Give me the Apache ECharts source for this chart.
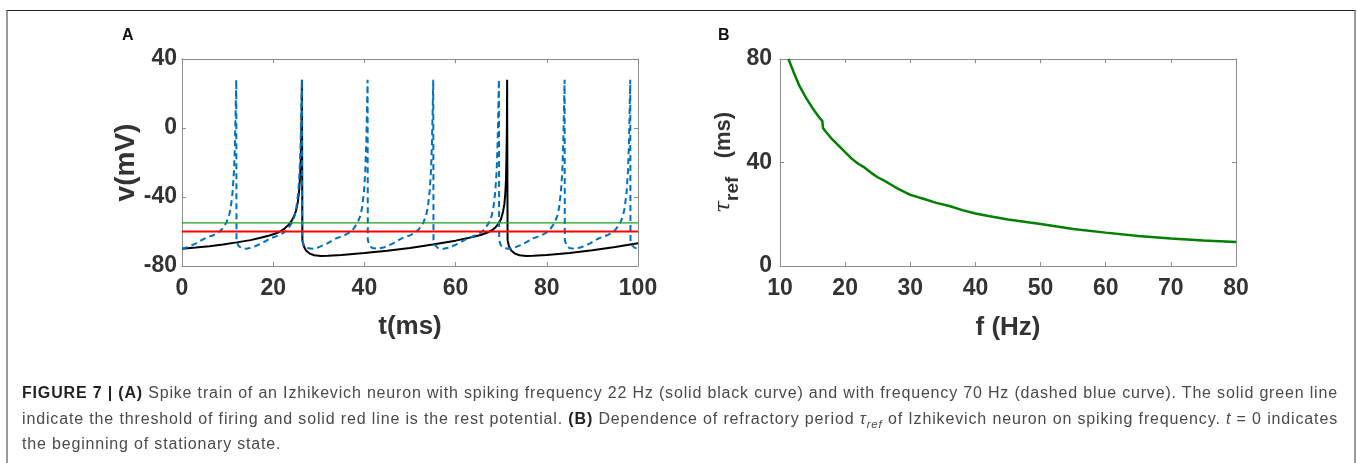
<!DOCTYPE html>
<html>
<head>
<meta charset="utf-8">
<script src="https://cdn.jsdelivr.net/npm/echarts@6/dist/echarts.min.js"></script>
<style>
    html, body { margin: 0; padding: 0; background: #fff; }
    #wrap { position: relative; width: 1357px; height: 463px; overflow: hidden; }
    #chart { position: absolute; left: 0; top: 0; width: 1357px; height: 463px; }
    #frame {
        position: absolute; left: 6px; top: 10px; width: 1346px; height: 460px;
        border-top: 1px solid #231f20; border-left: 2px solid #9b9b9b; border-right: 2px solid #9b9b9b;
        pointer-events: none;
    }
    #caption {
        position: absolute; left: 22px; top: 380px; width: 1316px;
        font-family: 'Liberation Sans', Arial, sans-serif; font-size: 16px; line-height: 25.5px;
        color: #4a4a4a;
    }
    #caption .ln { white-space: nowrap; height: 25.5px; }
    #caption .ln span.fit { display: inline-block; white-space: nowrap; }
    #caption b { color: #231f20; }
    #caption .sub { font-size: 11.5px; position: relative; top: 4px; line-height: 0; }
</style>
</head>
<body>
<div id="wrap">
    <div id="chart"></div>
    <div id="frame"></div>
    <div id="caption">
        <div class="ln"><span class="fit"><b>FIGURE 7 | (A)</b> Spike train of an Izhikevich neuron with spiking frequency 22 Hz (solid black curve) and with frequency 70 Hz (dashed blue curve). The solid green line</span></div>
        <div class="ln"><span class="fit">indicate the threshold of firing and solid red line is the rest potential. <b>(B)</b> Dependence of refractory period <i>&tau;<span class="sub">ref</span></i> of Izhikevich neuron on spiking frequency. <i>t</i> = 0 indicates</span></div>
        <div class="ln" id="lastLine">the beginning of stationary state.</div>
    </div>
</div>
<script>
// ---- panel A: membrane potential, 22 Hz neuron (solid black) ----
const slowTrain = [
    [0, -70], [3, -69.3], [6, -68.5], [9, -67.5], [12, -66.3], [15, -65], [17, -63.8], [19, -62.5],
    [20.5, -61.2], [21.5, -60], [22.5, -58.3], [23.3, -56.3], [24, -54], [24.5, -51.5], [25, -48],
    [25.4, -43], [25.7, -36], [25.9, -28], [26.05, -18], [26.15, -5], [26.25, 12], [26.3, 28],
    [26.4, -65], [26.7, -68.5], [27.2, -71], [28, -72.8], [29, -73.8], [30.5, -74.2], [32, -74.1],
    [35, -73.6], [40, -72.5], [45, -71.2], [50, -69.6], [55, -67.6], [60, -65.3], [63, -63.6],
    [65.5, -62], [67, -60.6], [68, -59.2], [68.8, -57.5], [69.5, -55.2], [70, -52.5], [70.4, -48.5],
    [70.7, -44], [70.9, -38], [71.05, -30], [71.15, -18], [71.25, 0], [71.3, 28],
    [71.4, -65], [71.7, -68.5], [72.2, -71], [73, -72.8], [74, -73.8], [75.5, -74.2], [77, -74.1],
    [80, -73.6], [85, -72.4], [90, -70.9], [95, -69], [100, -66.8]
];

// ---- panel A: 70 Hz neuron (dashed blue) ----
const fastTrain = [
    [0, -70], [1, -69.3], [3, -67], [5, -64], [7, -62], [8, -60.5], [8.8, -58.5], [9.7, -55],
    [10.3, -51], [10.7, -46], [11.1, -37], [11.4, -25], [11.6, -10], [11.75, 8], [11.9, 28],
    [11.95, -65], [12.3, -68], [12.9, -69.5], [14.1, -70], [15.4, -69.3], [17.4, -67], [19.4, -64],
    [21.4, -62], [22.4, -60.5], [23.2, -58.5], [24.1, -55], [24.7, -51], [25.1, -46], [25.5, -37],
    [25.8, -25], [26.0, -10], [26.15, 8], [26.3, 28],
    [26.35, -65], [26.7, -68], [27.3, -69.5], [28.5, -70], [29.8, -69.3], [31.8, -67], [33.8, -64],
    [35.8, -62], [36.8, -60.5], [37.6, -58.5], [38.5, -55], [39.1, -51], [39.5, -46], [39.9, -37],
    [40.2, -25], [40.4, -10], [40.55, 8], [40.7, 28],
    [40.75, -65], [41.1, -68], [41.7, -69.5], [42.9, -70], [44.2, -69.3], [46.2, -67], [48.2, -64],
    [50.2, -62], [51.2, -60.5], [52.0, -58.5], [52.9, -55], [53.5, -51], [53.9, -46], [54.3, -37],
    [54.6, -25], [54.8, -10], [54.95, 8], [55.1, 28],
    [55.15, -65], [55.5, -68], [56.1, -69.5], [57.3, -70], [58.6, -69.3], [60.6, -67], [62.6, -64],
    [64.6, -62], [65.6, -60.5], [66.4, -58.5], [67.3, -55], [67.9, -51], [68.3, -46], [68.7, -37],
    [69.0, -25], [69.2, -10], [69.35, 8], [69.5, 28],
    [69.55, -65], [69.9, -68], [70.5, -69.5], [71.7, -70], [73.0, -69.3], [75.0, -67], [77.0, -64],
    [79.0, -62], [80.0, -60.5], [80.8, -58.5], [81.7, -55], [82.3, -51], [82.7, -46], [83.1, -37],
    [83.4, -25], [83.6, -10], [83.75, 8], [83.9, 28],
    [83.95, -65], [84.3, -68], [84.9, -69.5], [86.1, -70], [87.4, -69.3], [89.4, -67], [91.4, -64],
    [93.4, -62], [94.4, -60.5], [95.2, -58.5], [96.1, -55], [96.7, -51], [97.1, -46], [97.5, -37],
    [97.8, -25], [98.0, -10], [98.15, 8], [98.3, 28],
    [98.35, -65], [98.7, -68], [99.3, -69.5], [100, -69.8]
];

const thresholdV = -55;   // green
const restV = -60;        // red
const timeRange = [0, 100];

// ---- panel B: refractory period vs frequency ----
const freqHz = [11.3, 12, 13, 14, 15, 16, 16.5, 16.6, 17, 18, 19, 20, 21, 22, 23, 24, 25, 26, 27, 28,
    30, 32, 34, 36, 38, 40, 42, 45, 50, 55, 60, 65, 70, 75, 80];
const tauRef = [80, 75.5, 69.5, 65, 61, 57.5, 56, 53.3, 52, 49, 46.5, 44, 41.5, 39.5, 38, 36, 34.3, 33, 31.5, 30,
    27.5, 26, 24.4, 23.2, 21.6, 20.3, 19.3, 18, 16.2, 14.3, 12.9, 11.6, 10.6, 9.9, 9.3];

const FONT = 'Liberation Sans';
const TXT = '#333';
const BOX = '#8c8c8c';

// stretch the two full caption lines to the caption width
let firstSpacing = 0;
document.querySelectorAll('#caption span.fit').forEach(function (el, i) {
    const chars = el.textContent.length;
    const natural = el.getBoundingClientRect().width;
    const spacing = (1316 - natural) / chars;
    el.style.letterSpacing = spacing.toFixed(3) + 'px';
    if (i === 0) firstSpacing = spacing;
});
document.getElementById('lastLine').style.letterSpacing = firstSpacing.toFixed(3) + 'px';

function mainAxis(extra) {
    return Object.assign({
        type: 'value',
        axisLine: { show: true, onZero: false, lineStyle: { color: BOX, width: 1 } },
        axisTick: { show: true, inside: true, length: 4, lineStyle: { color: BOX } },
        splitLine: { show: false },
        axisLabel: { color: TXT, fontFamily: FONT, fontWeight: 'bold', fontSize: 23 },
        nameLocation: 'middle',
        nameTextStyle: { color: TXT, fontFamily: FONT, fontWeight: 'bold', fontSize: 26 }
    }, extra);
}
function mirrorAxis(extra) {
    return Object.assign({
        type: 'value',
        axisLine: { show: true, onZero: false, lineStyle: { color: BOX, width: 1 } },
        axisTick: { show: true, inside: true, length: 4, lineStyle: { color: BOX } },
        splitLine: { show: false },
        axisLabel: { show: false }
    }, extra);
}

const chart = echarts.init(document.getElementById('chart'), null, { renderer: 'canvas' });
const option = {
    animation: false,
    backgroundColor: '#fff',
    grid: [
        { left: 182, top: 59, width: 456, height: 207 },
        { left: 780, top: 59, width: 456, height: 207 }
    ],
    xAxis: [
        mainAxis({ gridIndex: 0, position: 'bottom', min: 0, max: 100, interval: 20, name: 't(ms)', nameGap: 48,
            axisLabel: { color: TXT, fontFamily: FONT, fontWeight: 'bold', fontSize: 23, margin: 11 } }),
        mirrorAxis({ gridIndex: 0, position: 'top', min: 0, max: 100, interval: 20 }),
        mainAxis({ gridIndex: 1, position: 'bottom', min: 10, max: 80, interval: 10, name: 'f (Hz)', nameGap: 49,
            axisLabel: { color: TXT, fontFamily: FONT, fontWeight: 'bold', fontSize: 23, margin: 11 } }),
        mirrorAxis({ gridIndex: 1, position: 'top', min: 10, max: 80, interval: 10 })
    ],
    yAxis: [
        mainAxis({ gridIndex: 0, position: 'left', min: -80, max: 40, interval: 40, name: 'v(mV)', nameGap: 36,
            axisLabel: { color: TXT, fontFamily: FONT, fontWeight: 'bold', fontSize: 23, margin: 5 },
            nameTextStyle: { color: TXT, fontFamily: FONT, fontWeight: 'bold', fontSize: 28 } }),
        mirrorAxis({ gridIndex: 0, position: 'right', min: -80, max: 40, interval: 40 }),
        mainAxis({ gridIndex: 1, position: 'left', min: 0, max: 80, interval: 40,
            name: '{t|τ}{s|ref}   {m|(ms)}', nameGap: 37,
            axisLabel: { color: TXT, fontFamily: FONT, fontWeight: 'bold', fontSize: 23, margin: 8 },
            nameTextStyle: {
                color: TXT, fontFamily: FONT, fontWeight: 'bold', fontSize: 22,
                rich: {
                    t: { color: TXT, fontFamily: 'DejaVu Serif', fontStyle: 'italic', fontWeight: 'normal', fontSize: 22 },
                    s: { color: TXT, fontFamily: FONT, fontWeight: 'bold', fontSize: 19, padding: [18, 0, 0, 0] },
                    m: { color: TXT, fontFamily: FONT, fontWeight: 'bold', fontSize: 22 }
                }
            } }),
        mirrorAxis({ gridIndex: 1, position: 'right', min: 0, max: 80, interval: 40 })
    ],
    graphic: [
        { type: 'text', left: 122, top: 28, style: { text: 'A', fill: '#111', font: 'bold 16px "Liberation Sans"' } },
        { type: 'text', left: 718, top: 28, style: { text: 'B', fill: '#111', font: 'bold 16px "Liberation Sans"' } }
    ],
    series: [
        {
            type: 'line', xAxisIndex: 0, yAxisIndex: 0, data: slowTrain, showSymbol: false, symbol: 'none',
            lineStyle: { color: '#000', width: 2 }, z: 2
        },
        {
            type: 'line', xAxisIndex: 0, yAxisIndex: 0, data: fastTrain, showSymbol: false, symbol: 'none',
            lineStyle: { color: '#0072bd', width: 2, type: [6, 4] }, z: 3
        },
        {
            type: 'line', xAxisIndex: 0, yAxisIndex: 0, showSymbol: false, symbol: 'none',
            data: [[timeRange[0], thresholdV], [timeRange[1], thresholdV]],
            lineStyle: { color: '#1f9e1f', width: 1.2 }, z: 4
        },
        {
            type: 'line', xAxisIndex: 0, yAxisIndex: 0, showSymbol: false, symbol: 'none',
            data: [[timeRange[0], restV], [timeRange[1], restV]],
            lineStyle: { color: '#ff0000', width: 2 }, z: 4
        },
        {
            type: 'line', xAxisIndex: 2, yAxisIndex: 2, showSymbol: false, symbol: 'none',
            data: freqHz.map((f, i) => [f, tauRef[i]]),
            lineStyle: { color: '#007f00', width: 2.5 }
        }
    ]
};
chart.setOption(option);
</script>
</body>
</html>
